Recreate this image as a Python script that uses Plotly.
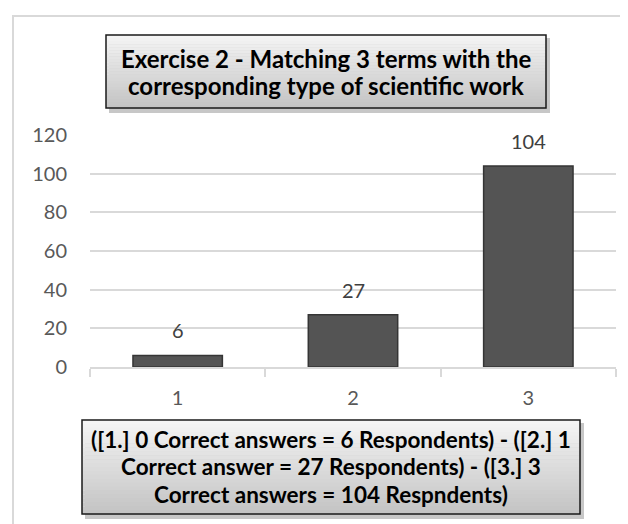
import plotly.graph_objects as go

categories = ["1", "2", "3"]
respondents = [6, 27, 104]
y_ticks = [0, 20, 40, 60, 80, 100, 120]
title_lines = ["Exercise 2 - Matching 3 terms with the",
               "corresponding type of scientific work"]
caption_lines = ["([1.] 0 Correct answers = 6 Respondents) - ([2.] 1",
                 "Correct answer = 27 Respondents) - ([3.] 3",
                 "Correct answers = 104 Respndents)"]

W, H = 628, 524
L, R, T, B = 82, 20, 127, 165
PW, PH = W - L - R, H - T - B

def px(x):
    return (x - L) / PW

def py(y):
    return (H - B - y) / PH

FONT = "Lato"
TXT = "#595959"

fig = go.Figure()
fig.add_trace(go.Bar(
    x=categories, y=respondents,
    marker=dict(color="#545454", line=dict(color="#353535", width=1.5)),
    width=0.51,
    hoverinfo="skip",
))

shapes = []
annotations = []

# outer chart frame
shapes.append(dict(type="rect", xref="paper", yref="paper", layer="below",
                   x0=px(5), x1=px(700), y0=py(600), y1=py(8),
                   line=dict(color="#d9d9d9", width=2), fillcolor="rgba(0,0,0,0)"))

def gradient_box(x0, y0, x1, y1, top="#f4f4f4", bottom="#c4c4c4", n=24):
    # shadow
    shapes.append(dict(type="rect", xref="paper", yref="paper", layer="above",
                       x0=px(x0 + 3), x1=px(x1 + 4), y0=py(y1 + 5), y1=py(y0 + 3),
                       line=dict(width=0), fillcolor="rgba(0,0,0,0.22)"))
    def hx(c):
        return tuple(int(c[i:i + 2], 16) for i in (1, 3, 5))
    a, b = hx(top), hx(bottom)
    h = (y1 - y0) / n
    for i in range(n):
        t = i / (n - 1)
        col = "rgb(%d,%d,%d)" % tuple(round(a[k] + (b[k] - a[k]) * t) for k in range(3))
        shapes.append(dict(type="rect", xref="paper", yref="paper", layer="above",
                           x0=px(x0), x1=px(x1), y0=py(y0 + (i + 1) * h + 0.3), y1=py(y0 + i * h),
                           line=dict(width=0), fillcolor=col))
    shapes.append(dict(type="rect", xref="paper", yref="paper", layer="above",
                       x0=px(x0), x1=px(x1), y0=py(y1), y1=py(y0),
                       line=dict(color="#1a1a1a", width=1.5), fillcolor="rgba(0,0,0,0)"))

gradient_box(98, 27, 538, 100)
gradient_box(74, 412, 572, 506)

for i, line in enumerate(title_lines):
    annotations.append(dict(xref="paper", yref="paper", x=px(318), y=py(50 + 28 * i),
                            text="<b>%s</b>" % line, showarrow=False,
                            xanchor="center", yanchor="middle",
                            font=dict(family=FONT, size=24, color="#000000")))

for i, line in enumerate(caption_lines):
    annotations.append(dict(xref="paper", yref="paper", x=px(323), y=py(431 + 27.5 * i),
                            text="<b>%s</b>" % line, showarrow=False,
                            xanchor="center", yanchor="middle",
                            font=dict(family=FONT, size=22.5, color="#000000")))

# data labels above bars
for i, v in enumerate(respondents):
    annotations.append(dict(x=i, y=v, xref="x", yref="y", text=str(v), showarrow=False,
                            xanchor="center", yanchor="middle", yshift=25,
                            font=dict(family=FONT, size=20, color="#404040")))

fig.update_layout(
    width=W, height=H,
    margin=dict(l=L, r=R, t=T, b=B, pad=0, autoexpand=False),
    paper_bgcolor="white", plot_bgcolor="white",
    showlegend=False,
    shapes=shapes, annotations=annotations,
    font=dict(family=FONT, size=20, color=TXT),
    xaxis=dict(type="category", range=[-0.5, 2.5], showgrid=False, showline=True,
               linecolor="#d9d9d9", linewidth=1.5,
               ticks="outside", tickson="boundaries", ticklen=8, tickcolor="#d9d9d9", tickwidth=1.5,
               tickfont=dict(family=FONT, size=20, color=TXT), ticklabelstandoff=12,
               automargin=False, fixedrange=True),
    yaxis=dict(range=[0, 120], tickvals=y_ticks, showgrid=True, gridcolor="#d9d9d9", gridwidth=1.5,
               zeroline=False, showline=False, ticks="",
               tickfont=dict(family=FONT, size=20, color=TXT), ticklabelstandoff=22,
               automargin=False, fixedrange=True),
)

fig.write_html("out.html")
